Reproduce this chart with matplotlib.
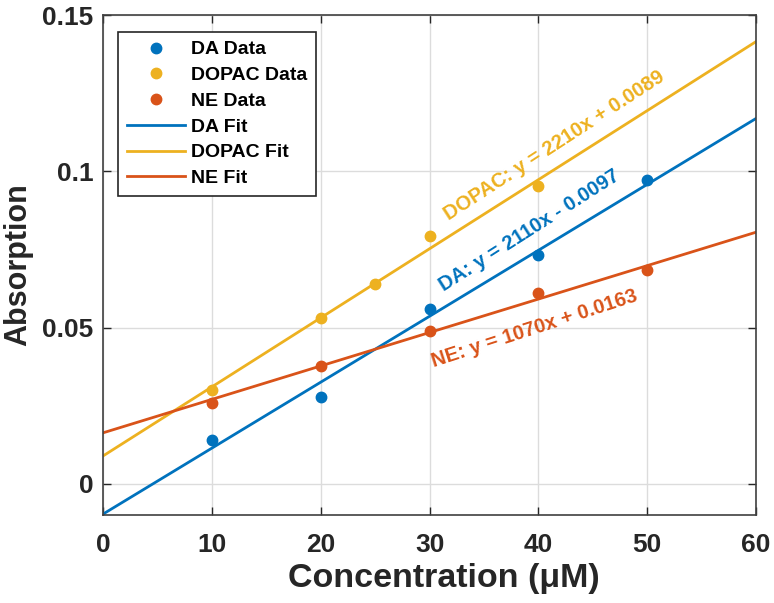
import numpy as np
import matplotlib
matplotlib.use("Agg")
from matplotlib import pyplot as plt

plt.rcParams['font.family'] = ['Liberation Sans', 'DejaVu Sans']
plt.rcParams['font.weight'] = 'bold'

# measured points (concentration in uM, absorption)
da_x = [10, 20, 30, 40, 50]
da_y = [0.0141, 0.0279, 0.0558, 0.0731, 0.0971]
dopac_x = [10, 20, 25, 30, 40]
dopac_y = [0.0301, 0.0532, 0.0638, 0.0792, 0.0952]
ne_x = [10, 20, 30, 40, 50]
ne_y = [0.0260, 0.0378, 0.0490, 0.0609, 0.0683]

# linear fits, slope per M and intercept
names = ['DA', 'DOPAC', 'NE']
slopes = [2110, 2210, 1070]
intercepts = [-0.0097, 0.0089, 0.0163]

colors = ['#0072BD', '#EDB120', '#D95319']


def main():
    fig = plt.figure(figsize=(7.74, 6.03), dpi=100)
    ax = fig.add_axes([0.1331, 0.1459, 0.8437, 0.8292])

    for x, y, name, c in zip((da_x, dopac_x, ne_x), (da_y, dopac_y, ne_y), names, colors):
        ax.plot(x, y, 'o', color=c, markersize=7.5, label=name + ' Data', zorder=3)

    xfit = np.linspace(0, 60, 2)
    for m, b, name, c in zip(slopes, intercepts, names, colors):
        ax.plot(xfit, m * 1e-6 * xfit + b, '-', color=c, lw=2, label=name + ' Fit', zorder=2)

    # fit equations along the lines
    labels = [
        (31.5, 0.0605, 32.5, 'DA: y = 2110x - 0.0097'),
        (32.0, 0.0830, 33.0, 'DOPAC: y = 2210x + 0.0089'),
        (30.5, 0.0362, 18.0, 'NE: y = 1070x + 0.0163'),
    ]
    for (tx, ty, rot, s), c in zip(labels, colors):
        ax.text(tx, ty, s, color=c, fontsize=14.5, fontweight='bold', rotation=rot,
                rotation_mode='anchor', ha='left', va='bottom')

    ax.set_xlim(0, 60)
    ax.set_ylim(-0.01, 0.15)
    ax.set_xticks([0, 10, 20, 30, 40, 50, 60])
    ax.set_yticks([0, 0.05, 0.1, 0.15])
    ax.set_yticklabels(['0', '0.05', '0.1', '0.15'])
    ax.grid(True, color='#dcdcdc', lw=1)
    ax.set_axisbelow(True)
    ax.tick_params(direction='in', top=True, right=True, length=6, width=1,
                   labelsize=19, colors='#262626')
    ax.tick_params(axis='x', pad=13)
    ax.tick_params(axis='y', pad=7)
    for sp in ax.spines.values():
        sp.set_color('#404040')
        sp.set_linewidth(1.2)

    ax.set_xlabel('Concentration (\u03bcM)', fontsize=24.5, fontweight='bold',
                  color='#262626', labelpad=4)
    ax.xaxis.label.set_x(0.522)
    ax.set_ylabel('Absorption', fontsize=22, fontweight='bold', color='#262626', labelpad=6)

    leg = ax.legend(loc='upper left', bbox_to_anchor=(0.023, 0.966), fontsize=14,
                    frameon=True, fancybox=False, framealpha=1, edgecolor='#262626',
                    handlelength=3.0, handletextpad=0.3, borderpad=0.45,
                    labelspacing=0.42, borderaxespad=0)
    leg.get_frame().set_linewidth(1.2)

    fig.savefig('out.png', dpi=100)


if __name__ == '__main__':
    main()
